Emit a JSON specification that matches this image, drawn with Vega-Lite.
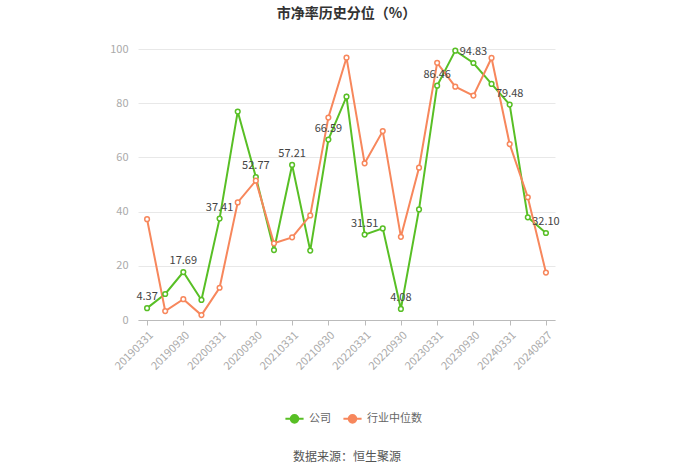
{
  "$schema": "https://vega.github.io/schema/vega-lite/v6.json",
  "autosize": "none",
  "width": 417,
  "height": 271,
  "padding": {"left": 138, "top": 49, "right": 145, "bottom": 154},
  "background": "white",
  "config": {"font": "Noto Sans CJK SC", "view": {"stroke": null}},
  "title": {"text": "市净率历史分位（%）", "fontSize": 14, "fontWeight": "bold", "color": "#333333", "offset": 22, "anchor": "middle"},
  "datasets": {
    "rows": [
      {"date": "20190331", "公司": 4.37, "行业中位数": 37.2},
      {"date": "20190630", "公司": 9.6, "行业中位数": 3.3},
      {"date": "20190930", "公司": 17.69, "行业中位数": 7.7},
      {"date": "20191231", "公司": 7.4, "行业中位数": 1.8},
      {"date": "20200331", "公司": 37.41, "行业中位数": 11.9},
      {"date": "20200630", "公司": 76.9, "行业中位数": 43.4},
      {"date": "20200930", "公司": 52.77, "行业中位数": 51.4},
      {"date": "20201231", "公司": 25.8, "行业中位数": 28.3},
      {"date": "20210331", "公司": 57.21, "行业中位数": 30.5},
      {"date": "20210630", "公司": 25.6, "行业中位数": 38.6},
      {"date": "20210930", "公司": 66.59, "行业中位数": 74.7},
      {"date": "20211231", "公司": 82.4, "行业中位数": 96.8},
      {"date": "20220331", "公司": 31.51, "行业中位数": 57.8},
      {"date": "20220630", "公司": 33.8, "行业中位数": 69.7},
      {"date": "20220930", "公司": 4.08, "行业中位数": 30.7},
      {"date": "20221231", "公司": 40.8, "行业中位数": 56.2},
      {"date": "20230331", "公司": 86.46, "行业中位数": 94.9},
      {"date": "20230630", "公司": 99.4, "行业中位数": 86.1},
      {"date": "20230930", "公司": 94.83, "行业中位数": 82.8},
      {"date": "20231231", "公司": 87.1, "行业中位数": 96.7},
      {"date": "20240331", "公司": 79.48, "行业中位数": 64.9},
      {"date": "20240630", "公司": 37.9, "行业中位数": 45.3},
      {"date": "20240827", "公司": 32.10, "行业中位数": 17.5}
    ]
  },
  "data": {"name": "rows"},
  "transform": [{"fold": ["公司", "行业中位数"], "as": ["series", "value"]}],
  "encoding": {
    "x": {
      "field": "date", "type": "ordinal", "sort": null,
      "scale": {"type": "point", "padding": 0.5},
      "axis": {
        "values": ["20190331","20190930","20200331","20200930","20210331","20210930","20220331","20220930","20230331","20230930","20240331","20240827"],
        "labelAngle": -45, "labelColor": "#aaaaaa", "labelFontSize": 11, "labelPadding": 4,
        "domainColor": "#bbbbbb", "tickColor": "#bbbbbb", "tickSize": 5, "grid": false,
        "title": "数据来源：恒生聚源", "titleFontSize": 12, "titleFontWeight": "normal", "titleColor": "#555555", "titlePadding": 80
      }
    },
    "y": {
      "field": "value", "type": "quantitative",
      "scale": {"domain": [0, 100], "nice": false},
      "axis": {
        "values": [0, 20, 40, 60, 80, 100], "title": null, "domain": false, "ticks": false,
        "labelColor": "#aaaaaa", "labelFontSize": 11, "labelPadding": 10,
        "gridColor": "#e8e8e8"
      }
    },
    "color": {
      "field": "series", "type": "nominal",
      "scale": {"domain": ["公司", "行业中位数"], "range": ["#58bf25", "#f7875c"]},
      "legend": {
        "orient": "none", "legendX": 146, "legendY": 359, "direction": "horizontal", "title": null,
        "symbolType": "M-1,0L-0.42,0M0.42,0L1,0M-0.42,0A0.42,0.42 0 1,1 0.42,0A0.42,0.42 0 1,1 -0.42,0",
        "symbolSize": 330, "symbolStrokeWidth": 2, "symbolFillColor": "white",
        "labelColor": "#666666", "labelFontSize": 11, "columnPadding": 8, "labelOffset": 4
      }
    }
  },
  "layer": [
    {"mark": {"type": "line", "strokeWidth": 2}},
    {"mark": {"type": "point", "filled": true, "fill": "white", "size": 22, "strokeWidth": 1.5, "opacity": 1}, "encoding": {"stroke": {"field": "series", "type": "nominal", "legend": null, "scale": {"domain": ["公司", "行业中位数"], "range": ["#58bf25", "#f7875c"]}}}},
    {
      "transform": [
        {"filter": "datum.series === '公司'"},
        {"filter": {"field": "date", "oneOf": ["20190331","20190930","20200331","20200930","20210331","20210930","20220331","20220930","20230331","20230930","20240331","20240827"]}}
      ],
      "mark": {"type": "text", "dy": -11, "fontSize": 11, "color": "#444444"},
      "encoding": {"text": {"field": "value", "type": "quantitative", "format": ".2f"}, "color": {"value": "#444444"}}
    }
  ]
}
